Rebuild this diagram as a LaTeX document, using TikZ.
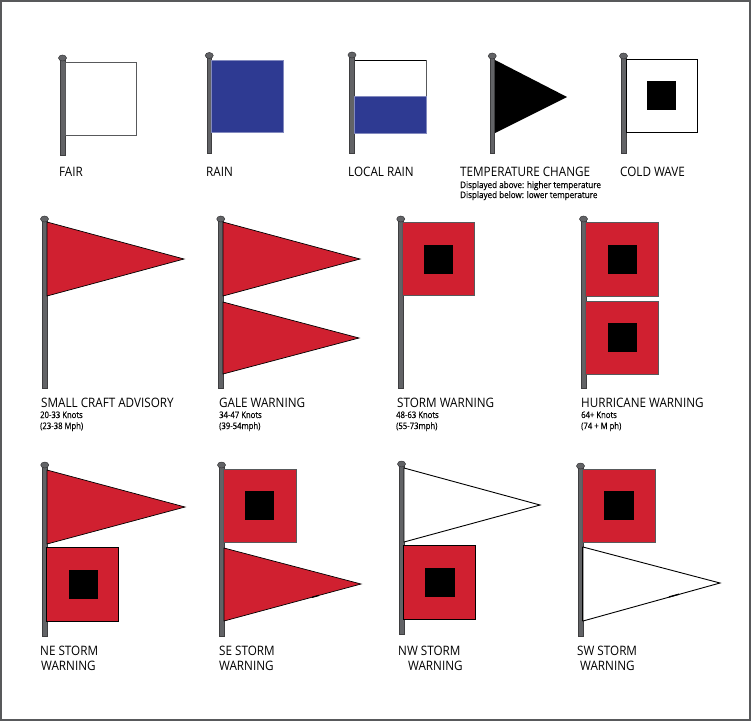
\documentclass[tikz,border=0pt]{standalone}
\usepackage{fontspec}
\setmainfont{Open Sans}
\definecolor{flagred}{HTML}{D02030}
\definecolor{flagblue}{HTML}{2E3A92}
\definecolor{polegray}{HTML}{626366}
\definecolor{edgegray}{HTML}{58595B}
\tikzset{
  x=1pt,y=-1pt,
  polebody/.style={fill=polegray,draw=edgegray!70!black,line width=.5pt},
  knobtop/.style={fill=polegray,draw=edgegray!60!black,line width=.5pt},
  whitesquare/.style={fill=white,draw=edgegray,line width=1pt},
  redsquare/.style={fill=flagred,draw=edgegray,line width=.9pt},
  bluesquare/.style={fill=flagblue,draw=flagblue!60!white,line width=.6pt},
  centre/.style={fill=black,draw=none},
  redtri/.style={fill=flagred,draw=black,line width=.7pt,line join=miter},
  whitetri/.style={fill=white,draw=black,line width=.9pt,line join=miter},
  nick/.style={draw=black,line width=1.3pt},
  title/.style={anchor=base west,inner sep=0pt,xscale=.9,font=\fontsize{13}{15}\selectfont},
  small/.style={anchor=base west,inner sep=0pt,xscale=.9,font=\fontsize{9}{10}\selectfont\addfontfeature{FakeBold=0.25}},
  knots/.style={small,xscale=.95},
}
\newcommand{\flagpole}[4]{% left, right, top, bottom
  \path[polebody] (#1,#3) rectangle (#2,#4);
  \path[knobtop] ({(#1+#2)/2},#3) ellipse [x radius=4,y radius=3];
}
\begin{document}
\begin{tikzpicture}
\useasboundingbox (0,0) rectangle (751,721);
\draw[edgegray,line width=1.6pt] (1,1) rectangle (750,720);

% row 1
\flagpole{60}{65}{58}{155}
\draw[whitesquare] (65,62.5) rectangle (136.6,135);
\flagpole{207}{211.5}{55.5}{153}
\path[bluesquare] (211.5,60.5) rectangle (283,132.5);
\flagpole{349.5}{354.5}{55}{153}
\draw[black,line width=.8pt] (354.5,60) -- (426.3,60);
\draw[edgegray,line width=.8pt] (426.3,60) -- (426.3,96);
\path[bluesquare] (354.5,96) rectangle (426.3,133);
\flagpole{490}{494.5}{56}{153}
\fill[black] (495,60) -- (567,97) -- (495,133) -- cycle;
\flagpole{621}{626}{56}{153}
\draw[whitesquare,draw=black,line width=.7pt] (626,59) rectangle (697.6,132);
\fill[centre] (647,81) rectangle (676,110);

% row 2
\flagpole{42}{47}{219}{388}
\draw[redtri] (47,222) -- (184,259) -- (47,296) -- cycle;
\flagpole{218.5}{223}{219}{388}
\draw[redtri] (223,222) -- (360,259) -- (223,296) -- cycle;
\draw[redtri] (223,302) -- (359,338) -- (223,374) -- cycle;
\flagpole{398.5}{403}{219}{388}
\draw[redsquare] (402.5,222.5) rectangle (474.4,295);
\fill[centre] (424,244.5) rectangle (453,273.5);
\flagpole{581}{586}{219}{388}
\draw[redsquare] (585.5,222.5) rectangle (658.4,296);
\fill[centre] (608,244.5) rectangle (637,274);
\draw[redsquare] (585.5,301) rectangle (658.4,374);
\fill[centre] (608,323) rectangle (637,352);

% row 3
\flagpole{42.5}{47}{465}{636}
\draw[redtri] (47,470) -- (185,507) -- (47,544) -- cycle;
\draw[redsquare,draw=black,line width=.6pt] (46.5,547) rectangle (118.6,621);
\fill[centre] (69,570) rectangle (98,599);
\flagpole{219}{224}{465}{636}
\draw[redsquare] (223.5,469) rectangle (296.4,542);
\fill[centre] (245,491) rectangle (274,520);
\draw[redtri] (224,548) -- (361,584) -- (224,621) -- cycle;
\draw[nick] (312,597.3) -- (319,595.4);
\flagpole{399}{404}{464}{634}
\draw[whitetri] (404,468) -- (540,505) -- (404,542) -- cycle;
\draw[redsquare,draw=black,line width=.6pt] (403.5,545) rectangle (475.6,619);
\fill[centre] (425,568) rectangle (455,597);
\flagpole{578}{583}{466}{636}
\draw[redsquare] (582.5,469) rectangle (655.6,542);
\fill[centre] (604,491) rectangle (634,520);
\draw[whitetri] (583,547) -- (720,583) -- (583,621) -- cycle;
\draw[nick] (669,596.9) -- (679,594.2);
\draw[black,line width=1.4pt] (582.5,547) -- (582.5,621);

% labels row 1
\node[title] (fair) at (59,176) {FAIR};
\node[title] (rain) at (206,176) {RAIN};
\node[title] (localrain) at (348,176) {LOCAL RAIN};
\node[title] (tempchange) at (460,176) {TEMPERATURE CHANGE};
\node[small] (tempabove) at (460,188) {Displayed above: higher temperature};
\node[small] (tempbelow) at (460,198) {Displayed below: lower temperature};
\node[title] (coldwave) at (620,176) {COLD WAVE};

% labels row 2
\node[title] (smallcraft) at (41,407) {SMALL CRAFT ADVISORY};
\node[knots] (smallcraftA) at (40,418) {20-33 Knots};
\node[knots] (smallcraftB) at (40,429) {(23-38 Mph)};
\node[title] (gale) at (219,407) {GALE WARNING};
\node[knots] (galeA) at (219,418) {34-47 Knots};
\node[knots] (galeB) at (219,429) {(39-54mph)};
\node[title] (storm) at (397,407) {STORM WARNING};
\node[knots] (stormA) at (396,418) {48-63 Knots};
\node[knots] (stormB) at (396,429) {(55-73mph)};
\node[title] (hurricane) at (581,407) {HURRICANE WARNING};
\node[knots] (hurricaneA) at (581,418) {64+ Knots};
\node[knots] (hurricaneB) at (581,429) {(74 + M ph)};

% labels row 3
\node[title] (ne) at (40,655) {NE STORM};
\node[title] (neB) at (41,670) {WARNING};
\node[title] (se) at (219,655) {SE STORM};
\node[title] (seB) at (219,670) {WARNING};
\node[title] (nw) at (398,655) {NW STORM};
\node[title] (nwB) at (408,670) {WARNING};
\node[title] (sw) at (577,655) {SW STORM};
\node[title] (swB) at (580,670) {WARNING};
\end{tikzpicture}
\end{document}
